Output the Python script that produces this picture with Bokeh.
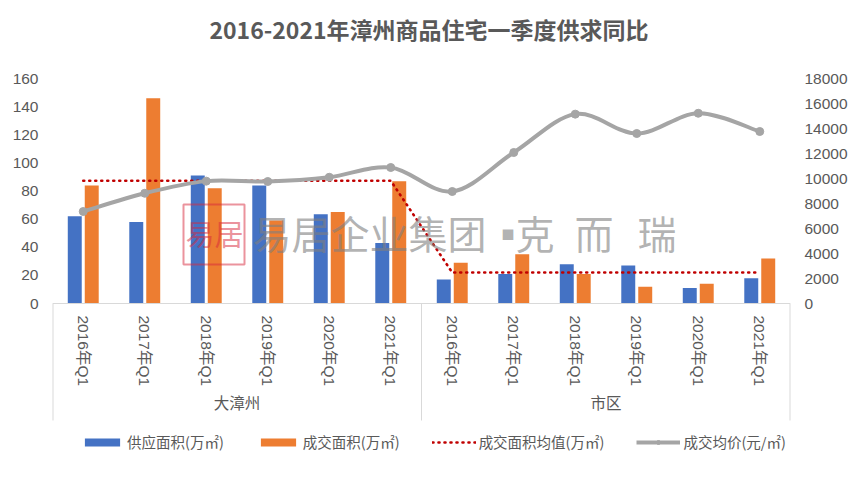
from bokeh.plotting import figure
from bokeh.models import (FactorRange, Range1d, LinearAxis, FixedTicker, Legend, LegendItem,
                          ColumnDataSource, Label, BoxAnnotation)
from bokeh.transform import dodge
from bokeh.embed import file_html
from bokeh.resources import INLINE

groups = ["大漳州", "市区"]
quarters = ["2016年Q1", "2017年Q1", "2018年Q1", "2019年Q1", "2020年Q1", "2021年Q1"]
supply = [62, 58, 91, 84, 63.5, 43, 17, 21, 28, 27, 11, 18]
sold = [84, 146, 82, 59, 65, 87, 29, 35, 21, 12, 14, 32]
sold_mean = [87.3, 87.3, 87.3, 87.3, 87.3, 87.3, 22, 22, 22, 22, 22, 22]
price = [7360, 8820, 9790, 9760, 10100, 10880, 8960, 12080, 15150, 13600, 15220, 13760]
left_ticks = [0, 20, 40, 60, 80, 100, 120, 140, 160]
right_ticks = [0, 2000, 4000, 6000, 8000, 10000, 12000, 14000, 16000, 18000]
names = ["供应面积(万㎡)", "成交面积(万㎡)", "成交面积均值(万㎡)", "成交均价(元/㎡)"]
title_text = "2016-2021年漳州商品住宅一季度供求同比"
mark_text = ["易居企业集团", "▪", "克", "而", "瑞"]
seal_text = ["易", "居"]

FONT = "Liberation Sans, Noto Sans CJK SC"
TXT = "#595959"
factors = [(g, q) for g in groups for q in quarters]
pos = [i + 0.5 for i in range(len(factors))]

# The frame runs on above the 160 line and below the zero line, so that the title,
# the axis boxes and the legend (which are clipped to the frame) can live inside it.
PX_PER_UNIT = 225 / 160
y_low = -(480 - 303) / PX_PER_UNIT
y_high = 160 + (78 - 5) / PX_PER_UNIT
p = figure(width=861, height=485, output_backend="svg", toolbar_location=None,
           x_range=FactorRange(*factors, factor_padding=0, group_padding=0, range_padding=0),
           y_range=Range1d(y_low, y_high), min_border_left=52, min_border_right=71,
           min_border_top=5, min_border_bottom=5, outline_line_color=None)
p.extra_y_ranges = {"price": Range1d(y_low * 18000 / 160, y_high * 18000 / 160)}
p.add_layout(Label(x=428.5, y=28, x_units="canvas", y_units="canvas", text=title_text,
                   text_font="Noto Sans CJK SC", text_font_size="23px", text_font_style="bold",
                   text_color=TXT, text_align="center", text_baseline="middle"))
p.grid.visible = False

src = ColumnDataSource(dict(x=factors, pos=pos, supply=supply, sold=sold, mean=sold_mean, price=price))
r1 = p.vbar(x=dodge("x", -0.138, range=p.x_range), top="supply", width=0.227, source=src,
            fill_color="#4472C4", line_color=None)
r2 = p.vbar(x=dodge("x", 0.138, range=p.x_range), top="sold", width=0.227, source=src,
            fill_color="#ED7D31", line_color=None)
r3 = p.line(x="pos", y="mean", source=src, line_color="#C00000", line_width=2.6,
            line_dash="1 5", line_cap="round")

# smoothed price line: one cubic segment between each pair of neighbouring values
n = len(price)
seg = dict(x0=[], y0=[], x1=[], y1=[], cx0=[], cy0=[], cx1=[], cy1=[])
for i in range(n - 1):
    a, b = max(i - 1, 0), min(i + 2, n - 1)
    seg["x0"].append(pos[i]); seg["y0"].append(price[i])
    seg["x1"].append(pos[i + 1]); seg["y1"].append(price[i + 1])
    seg["cx0"].append(pos[i] + (pos[i + 1] - pos[a]) / 6)
    seg["cy0"].append(price[i] + (price[i + 1] - price[a]) / 6)
    seg["cx1"].append(pos[i + 1] - (pos[b] - pos[i]) / 6)
    seg["cy1"].append(price[i + 1] - (price[b] - price[i]) / 6)
r4 = p.bezier(source=ColumnDataSource(seg), x0="x0", y0="y0", x1="x1", y1="y1", cx0="cx0", cy0="cy0",
              cx1="cx1", cy1="cy1", y_range_name="price", line_color="#A5A5A5", line_width=4)
r5 = p.scatter(x="pos", y="price", source=src, y_range_name="price", size=8,
               fill_color="#A5A5A5", line_color="#A5A5A5")

p.yaxis[0].ticker = FixedTicker(ticks=left_ticks)
right = LinearAxis(y_range_name="price", ticker=FixedTicker(ticks=right_ticks))
p.add_layout(right, "right")
for ax in [p.yaxis[0], right]:
    ax.axis_line_color = None
    ax.major_tick_line_color = None
    ax.minor_tick_line_color = None
    ax.major_label_text_font = FONT
    ax.major_label_text_font_size = "15.5px"
    ax.major_label_text_color = TXT
p.yaxis[0].major_label_standoff = 8
right.major_label_standoff = 8

xa = p.xaxis[0]
xa.fixed_location = 0
xa.axis_line_color = "#D9D9D9"
xa.major_tick_line_color = None
xa.minor_tick_line_color = None
xa.major_label_orientation = "vertical"
xa.major_label_text_font = FONT
xa.major_label_text_font_size = "15.5px"
xa.major_label_text_color = TXT
xa.major_label_standoff = 6
xa.group_text_font = FONT
xa.group_text_font_size = "15.5px"
xa.group_text_color = TXT
xa.group_text_font_style = "normal"
xa.separator_line_color = None

# box lines of the two-level category axis, from the zero line down
edges = [0, len(quarters), len(factors)]
p.segment(x0=edges, x1=edges, y0=[0, 0, 0], y1=[-(420 - 303) / PX_PER_UNIT] * 3,
          line_color="#D9D9D9", line_width=[2, 1, 2])

# watermark
p.add_layout(BoxAnnotation(left=183, right=244, top=204, bottom=264,
                           left_units="canvas", right_units="canvas", top_units="canvas", bottom_units="canvas",
                           fill_alpha=0, line_color="#D8283C", line_alpha=0.5, line_width=2))
for t, xp in zip(seal_text, [185, 214]):
    p.add_layout(Label(x=xp, y=232, x_units="canvas", y_units="canvas", text=t,
                       text_font="Noto Sans CJK SC", text_font_size="29px",
                       text_color="#D8283C", text_alpha=0.5, text_baseline="middle", text_align="left"))
for t, xp in zip(mark_text, [252, 488, 515, 574, 637]):
    p.add_layout(Label(x=xp, y=231, x_units="canvas", y_units="canvas", text=t,
                       text_font="Noto Sans CJK SC", text_font_size="39px", text_color="#7F7F7F", text_alpha=0.6,
                       text_baseline="middle", text_align="left"))

legend = Legend(items=[LegendItem(label=names[0], renderers=[r1]),
                       LegendItem(label=names[1], renderers=[r2]),
                       LegendItem(label=names[2], renderers=[r3]),
                       LegendItem(label=names[3], renderers=[r4, r5])],
                orientation="horizontal", location=(28, 28), border_line_color=None,
                background_fill_alpha=0, label_text_font="Noto Sans CJK SC", label_text_font_size="14.5px",
                label_text_color=TXT, glyph_width=44, glyph_height=10, spacing=32, padding=0,
                label_standoff=3, margin=0)
p.add_layout(legend, "center")

open("out.html", "w").write(file_html(p, INLINE))
